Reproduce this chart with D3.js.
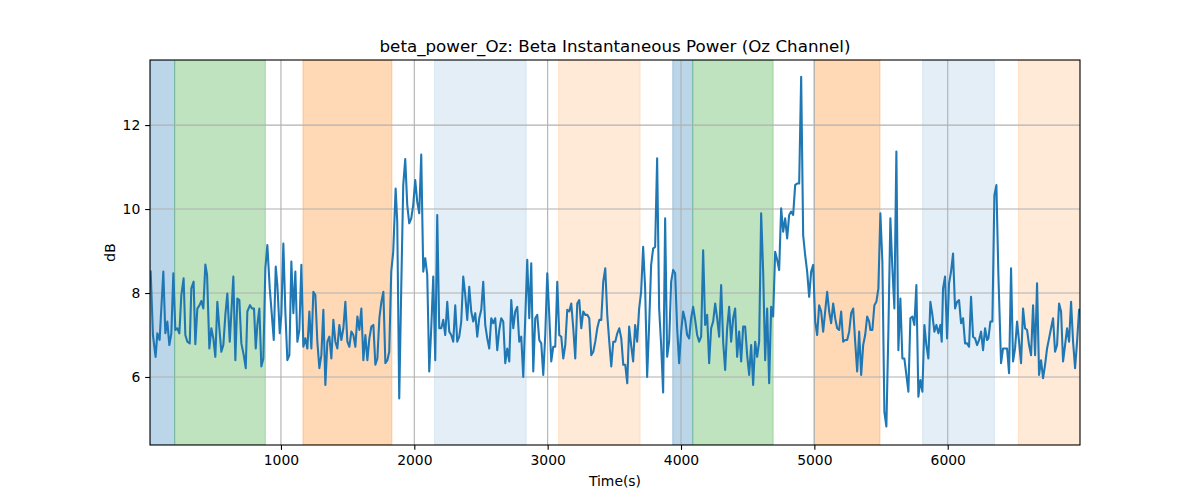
<!DOCTYPE html>
<html>
<head>
<meta charset="utf-8">
<script src="https://cdn.jsdelivr.net/npm/d3@7"></script>
<style>
body{margin:0;background:#fff;}
svg{display:block;font-family:"DejaVu Sans",sans-serif;}
</style>
</head>
<body>
<svg id="chart" width="1200" height="500"></svg>
<script>
const times = [23,40,60,73,90,118,133,148,163,178,193,208,223,238,253,270,283,298,316,328,345,358,373,390,403,418,433,446,463,478,493,508,523,538,553,568,583,598,616,643,658,673,688,703,721,736,748,768,783,798,811,823,838,853,868,883,898,
916,928,946,961,973,991,1003,1018,1033,1048,1063,1078,1093,1108,1123,1138,1153,1168,1183,1198,1213,1228,1243,1258,1273,1288,1303,1318,1333,1348,1363,1378,1393,1408,1423,1438,1453,1468,1483,1498,1513,1528,1543,1558,1573,1588,1603,1618,1633,1648,1663,1678,1693,1708,1723,1738,1753,1768,1783,1798,
1812,1827,1842,1860,1872,1887,1902,1917,1932,1947,1962,1977,1992,2007,2022,2037,2052,2067,2082,2097,2112,2127,2142,2157,2172,2187,2202,2217,2232,2247,2262,2277,2292,2307,2322,2337,2352,2367,2382,2397,2412,2427,2442,2457,2472,2487,2502,2517,2532,2547,2562,2577,2592,2607,2622,2637,2652,2667,2682,2697,
2712,2727,2742,2757,2772,2787,2802,2817,2832,2847,2862,2877,2892,2907,2922,2937,2952,2967,2982,2997,3012,3027,3042,3057,3072,3087,3102,3117,3132,3147,3162,3177,3192,3207,3222,3237,3252,3267,3282,3297,3312,3327,3342,3357,3372,3387,3402,3417,3432,3447,3462,3477,3492,3507,3522,3537,3552,3567,3582,3597,
3611,3626,3641,3656,3671,3686,3701,3716,3731,3746,3761,3776,3791,3806,3821,3836,3851,3866,3881,3896,3911,3926,3941,3956,3971,3986,4001,4016,4031,4046,4061,4076,4091,4106,4121,4136,4151,4166,4181,4196,4211,4226,4241,4256,4271,4286,4301,4316,4331,4346,4361,4376,4391,4406,4421,4436,4451,4466,4481,4496,
4511,4526,4541,4556,4571,4586,4601,4616,4631,4646,4661,4676,4691,4706,4721,4736,4751,4766,4781,4796,4811,4826,4841,4856,4871,4886,4901,4916,4931,4946,4961,4976,4991,5006,5021,5036,5051,5066,5081,5096,5111,5126,5141,5156,5171,5186,5201,5216,5231,5246,5261,5276,5291,5306,5321,5336,5351,5366,5381,
5396,5411,5420,5435,5450,5465,5480,5495,5510,5525,5540,5555,5570,5585,5600,5615,5630,5645,5660,5675,5690,5705,5720,5735,5750,5765,5780,5795,5810,5825,5840,5855,5870,5885,5900,5915,5930,5945,5955,5965,5980,5995,6010,6025,6040,6055,6070,6085,6100,6115,6130,6145,6160,6175,6190,6205,6220,6235,6250,6265,6280,6295,
6305,6320,6335,6350,6365,6380,6400,6415,6430,6445,6460,6475,6490,6505,6520,6535,6550,6565,6580,6595,6610,6625,6640,6655,6670,6685,6700,6715,6730,6745,6760,6775,6790,6805,6820,6835,6850,6865,6880,6895,6910,6925,6940,6955,6970,6985];
const values = [8.51,7.0,6.48,7.04,6.88,8.51,7.04,7.32,6.76,7.04,8.47,7.12,7.16,7.04,7.95,8.35,7.0,6.84,6.8,8.11,8.27,6.78,7.63,7.71,7.81,7.63,8.68,8.43,6.68,7.16,6.92,6.48,7.79,7.16,6.6,6.76,7.48,7.99,6.84,8.39,6.4,7.87,7.83,6.8,6.52,6.21,7.56,7.71,7.63,7.63,6.68,7.24,7.63,6.25,6.44,8.59,9.14,
8.11,7.63,6.88,8.63,8.19,7.04,7.48,9.18,7.56,6.4,6.52,8.75,7.52,8.51,6.84,7.12,8.67,6.72,6.92,6.68,7.56,6.68,8.03,7.95,6.84,6.21,6.52,7.6,5.81,6.84,6.96,6.44,7.36,6.84,6.68,7.24,6.88,7.16,7.79,6.84,6.72,7.08,7.0,6.72,7.44,7.12,7.63,6.4,7.0,6.4,6.92,7.2,7.24,6.29,6.44,7.4,7.79,8.03,6.33,6.4,
6.6,8.51,8.98,10.49,9.7,5.49,8.11,10.57,11.19,10.1,9.66,9.78,10.1,10.69,10.17,9.9,11.3,8.51,8.83,8.43,6.13,7.16,8.39,6.4,9.86,7.16,7.16,7.36,7.0,7.79,7.08,7.0,6.84,7.71,6.84,6.96,7.32,8.39,7.95,7.36,8.15,7.56,7.32,7.52,6.96,7.4,7.6,8.27,7.24,6.92,6.68,7.4,7.28,7.4,6.64,7.12,7.4,7.32,6.33,6.68,
6.37,7.83,7.16,7.56,7.67,6.84,6.96,6.0,7.4,8.79,7.4,8.71,6.13,7.4,7.48,6.88,6.8,6.05,7.0,8.47,7.48,6.37,6.72,6.72,8.27,7.0,6.96,6.44,6.76,7.6,7.56,7.75,7.16,6.44,7.75,7.83,7.16,7.56,7.48,7.48,7.4,6.52,6.6,6.84,7.16,7.36,7.36,8.27,8.59,7.48,6.84,6.25,6.84,6.84,7.04,7.16,6.92,6.29,6.29,5.85,
7.2,6.76,6.37,7.24,6.84,7.63,8.03,9.1,8.11,6.0,7.24,8.67,9.06,9.1,11.21,7.63,6.76,5.63,9.78,6.48,6.84,8.27,8.55,8.47,7.16,6.33,7.08,7.56,7.36,7.0,6.92,7.4,7.67,7.36,7.0,6.84,6.96,9.02,7.24,7.48,6.33,7.16,7.32,7.75,7.4,6.96,8.19,6.84,6.17,7.16,7.67,6.84,7.4,7.63,6.48,7.08,6.37,7.2,7.2,6.52,
6.05,6.76,5.81,6.84,6.48,6.84,9.9,8.51,6.4,7.63,5.85,7.67,7.44,8.98,8.79,8.55,10.02,9.46,9.78,9.3,9.86,9.94,9.86,10.57,10.61,10.61,13.15,9.38,8.9,8.51,7.91,8.51,8.67,7.32,7.0,7.71,7.56,7.08,7.56,8.03,7.56,7.28,7.75,7.4,7.16,7.12,7.56,6.84,6.88,6.88,7.08,7.52,7.63,6.84,6.13,7.08,6.05,6.76,7.0,
7.44,7.32,7.12,7.12,7.71,7.79,8.11,9.9,8.75,5.17,4.82,7.08,9.78,8.59,7.63,11.37,6.64,7.87,6.44,6.44,6.05,5.65,7.4,7.44,7.24,8.19,5.53,5.93,5.65,7.24,6.76,6.44,7.79,7.48,7.08,7.24,7.04,7.24,6.84,8.11,8.39,6.92,8.23,8.51,8.94,7.63,7.79,7.83,7.28,7.4,6.8,6.8,6.72,7.91,6.96,6.92,6.76,6.88,7.08,6.64,7.16,6.88,
6.92,7.32,7.32,10.33,10.57,8.43,6.33,6.68,6.68,6.68,6.09,8.59,6.37,6.68,7.32,6.84,6.33,7.63,7.16,7.12,6.76,6.52,7.71,6.52,8.23,6.05,6.4,5.97,6.29,6.68,6.92,7.16,7.4,6.6,6.76,7.75,7.56,6.37,6.76,7.16,6.84,7.79,6.84,6.21,6.84,7.6];

const spanStarts = [18,203,1165,2152,3082,3938,4088,4996,5812,6530];
const spanEnds   = [203,883,1832,2839,3693,4088,4691,5492,6350,6992];
const spanColors = ["#1f77b4","#2ca02c","#ff7f0e","#1f77b4","#ff7f0e","#1f77b4","#2ca02c","#ff7f0e","#1f77b4","#ff7f0e"];
const spanAlphas = [0.3,0.3,0.3,0.12,0.16,0.3,0.3,0.3,0.12,0.16];

const xTicks = [1000,2000,3000,4000,5000,6000];
const yTicks = [6,8,10,12];
const xDomain = [18,6992];
const yDomain = [4.38,13.55];

const svg = d3.select("#chart");
const m = {left:150, right:1080, top:60, bottom:445};
const x = d3.scaleLinear().domain(xDomain).range([m.left, m.right]);
const y = d3.scaleLinear().domain(yDomain).range([m.bottom, m.top]);

svg.append("clipPath").attr("id","clip").append("rect")
  .attr("x",m.left).attr("y",m.top).attr("width",m.right-m.left).attr("height",m.bottom-m.top);

const plot = svg.append("g").attr("clip-path","url(#clip)");

// spans
plot.selectAll("rect.span").data(spanStarts).join("rect")
  .attr("class","span")
  .attr("x",(d,i)=>x(d)).attr("width",(d,i)=>x(spanEnds[i])-x(d))
  .attr("y",m.top).attr("height",m.bottom-m.top)
  .attr("fill",(d,i)=>spanColors[i]).attr("fill-opacity",(d,i)=>spanAlphas[i])
  .attr("stroke",(d,i)=>spanColors[i]).attr("stroke-opacity",(d,i)=>spanAlphas[i]).attr("stroke-width",1);

// grid
plot.selectAll("line.gx").data(xTicks).join("line")
  .attr("x1",d=>x(d)).attr("x2",d=>x(d))
  .attr("y1",m.top).attr("y2",m.bottom).attr("stroke","#b0b0b0").attr("stroke-width",1.1);
plot.selectAll("line.gy").data(yTicks).join("line")
  .attr("y1",d=>y(d)).attr("y2",d=>y(d))
  .attr("x1",m.left).attr("x2",m.right).attr("stroke","#b0b0b0").attr("stroke-width",1.1);

// line
const pts = times.map((t,i)=>[t,values[i]]);
plot.append("path").datum(pts)
  .attr("fill","none").attr("stroke","#1f77b4").attr("stroke-width",2.08)
  .attr("stroke-linejoin","round").attr("stroke-linecap","square")
  .attr("d", d3.line().x(d=>x(d[0])).y(d=>y(d[1])));

// axes
const xAxis = svg.append("g").attr("transform",`translate(0,${m.bottom})`)
  .call(d3.axisBottom(x).tickValues(xTicks).tickSize(4.86).tickPadding(4.86).tickFormat(d3.format("d")));
const yAxis = svg.append("g").attr("transform",`translate(${m.left},0)`)
  .call(d3.axisLeft(y).tickValues(yTicks).tickSize(4.86).tickPadding(4.86).tickFormat(d3.format("d")));
[xAxis,yAxis].forEach(a=>{
  a.select(".domain").remove();
  a.selectAll("line").attr("stroke","#000").attr("stroke-width",1.1);
  a.selectAll("text").attr("font-size","13.9px").attr("fill","#000").attr("font-family","DejaVu Sans");
});

// frame
svg.append("rect").attr("x",m.left).attr("y",m.top).attr("width",m.right-m.left).attr("height",m.bottom-m.top)
  .attr("fill","none").attr("stroke","#000").attr("stroke-width",1.1);

// title and labels
svg.append("text").attr("x",(m.left+m.right)/2).attr("y",52).attr("text-anchor","middle")
  .attr("font-size","16.7px").text("beta_power_Oz: Beta Instantaneous Power (Oz Channel)");
svg.append("text").attr("x",(m.left+m.right)/2).attr("y",486).attr("text-anchor","middle")
  .attr("font-size","13.9px").text("Time(s)");
svg.append("text").attr("transform",`translate(115,${(m.top+m.bottom)/2}) rotate(-90)`).attr("text-anchor","middle")
  .attr("font-size","13.9px").text("dB");
</script>
</body>
</html>
